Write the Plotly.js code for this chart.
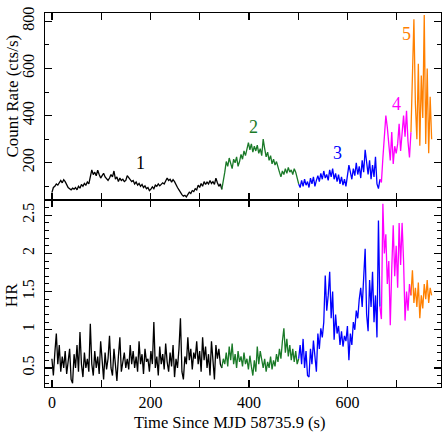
<!DOCTYPE html>
<html>
<head>
<meta charset="utf-8">
<script src="https://cdn.plot.ly/plotly-3.0.1.min.js"></script>
<style>html,body{margin:0;padding:0;background:#fff;}#chart{width:443px;height:441px;}</style>
</head>
<body>
<div id="chart"></div>
<script>
// Segment boundaries (s) and colours
var segLabels = ['1', '2', '3', '4', '5'];
var segStart = [0, 345, 501, 666, 729];
var segEnd = [345, 501, 666, 729, 771];
var segColors = ['#000000', '#1a7a28', '#0000ff', '#ff00ff', '#ff8000'];

// Count rate (cts/s), evenly spaced bins within each segment
var rate1 = [73,95,100,110,105,118,125,115,128,120,
  105,95,90,85,92,88,95,85,100,92,
  108,100,112,105,118,110,140,170,150,160,
  145,168,150,135,145,155,140,130,125,135,
  150,140,165,130,140,120,135,125,130,120,
  125,145,135,128,120,125,110,118,105,112,
  100,108,95,102,90,95,82,88,98,90,
  105,100,110,102,108,115,110,120,135,125,
  130,118,128,120,105,95,85,72,65,58,
  62,55,68,75,70,82,78,90,85,105,
  95,112,100,120,108,118,110,125,112,120,
  108,135,115,100,110,87];
var rate2 = [87,120,160,205,185,220,195,175,215,200,
  225,185,205,235,215,250,230,260,285,255,
  280,245,270,250,275,240,260,230,300,260,
  225,245,210,230,195,215,190,205,175,160,
  140,165,150,175,155,180,160,170,150,175,
  160,130,110];
var rate3 = [110,95,125,100,130,105,120,95,135,110,
  140,100,125,145,120,155,130,165,135,150,
  125,170,140,175,130,155,120,150,110,140,
  105,130,100,145,190,160,130,175,145,200,
  150,185,135,210,160,255,185,150,210,130,
  190,140,225,110,90,130];
var rate4 = [130,116,220,330,400,350,290,210,330,195,
  270,240,280,365,250,330,400,310,420,290,
  222,330];
var rate5 = [330,560,808,450,300,620,272,570,390,826,
  280,600,240,480,300];

// Hardness ratio
var hr1 = [0.62,0.40,0.70,0.95,0.55,0.80,0.45,0.65,0.50,0.72,
  0.42,0.60,0.75,0.35,0.30,0.68,0.50,0.80,0.45,0.97,
  0.55,0.38,0.70,0.50,0.62,0.45,1.08,0.55,0.40,0.72,
  0.50,0.65,0.42,0.85,0.55,0.35,0.70,0.48,0.62,0.92,
  0.50,0.40,0.75,0.52,0.33,0.65,0.90,0.45,0.58,0.70,
  0.50,0.62,0.48,0.80,0.55,0.72,0.50,0.65,0.45,0.85,
  0.55,0.68,0.42,0.75,0.58,0.62,0.45,0.72,0.55,1.10,
  0.50,0.65,0.40,0.78,0.55,0.68,0.48,0.82,0.58,0.45,
  0.70,0.52,0.80,0.38,0.62,0.50,0.75,1.15,0.45,0.35,
  0.65,0.55,0.90,0.60,0.75,0.48,0.70,0.62,0.85,0.55,
  0.72,0.45,0.90,0.60,0.78,0.50,0.68,0.40,0.85,0.58,
  0.35,0.80,0.62,0.75,0.55,0.50];
var hr2 = [0.50,0.62,0.55,0.70,0.52,0.78,0.60,0.82,0.55,0.68,
  0.50,0.72,0.58,0.65,0.52,0.70,0.55,0.62,0.48,0.66,
  0.52,0.40,0.60,0.45,0.78,0.55,0.72,0.58,0.50,0.62,
  0.45,0.58,0.50,0.65,0.48,0.60,0.52,0.68,0.58,0.75,
  0.62,0.85,1.02,0.70,0.88,0.65,0.80,0.60,0.75,0.58,
  0.72,0.55,0.62];
var hr3 = [0.62,0.80,0.55,0.88,0.50,0.72,0.40,0.38,0.75,0.55,
  0.86,0.60,0.45,0.95,0.75,1.02,0.90,1.10,1.71,1.25,
  1.45,1.76,1.15,1.50,0.87,1.20,0.95,1.05,0.80,0.98,
  0.78,0.92,0.85,1.05,0.60,0.95,0.80,1.10,1.00,1.25,
  1.15,1.40,1.55,1.30,1.76,2.06,1.20,0.98,1.65,1.30,
  1.76,1.10,1.45,0.90,2.43,1.30];
var hr4 = [1.30,1.14,2.65,2.00,2.25,1.60,1.90,1.06,1.80,2.37,
  1.70,2.10,1.55,2.40,1.85,2.40,1.90,1.12,1.50,1.25,
  1.60,1.45];
var hr5 = [1.45,1.78,1.35,1.55,1.30,1.62,1.15,1.45,1.28,1.60,
  1.40,1.65,1.35,1.55,1.45];

// Label positions for segment numbers (data coords)
var labelT = [179, 409, 579, 699, 719];
var labelRate = [200, 350, 241, 450, 748];

var rates = [rate1, rate2, rate3, rate4, rate5];
var hrs = [hr1, hr2, hr3, hr4, hr5];

function times(i, n) {
  var out = [];
  for (var k = 0; k < n; k++) out.push(segStart[i] + (segEnd[i] - segStart[i]) * k / (n - 1));
  return out;
}

var traces = [];
for (var i = 0; i < 5; i++) {
  traces.push({x: times(i, rates[i].length), y: rates[i], xaxis: 'x2', yaxis: 'y2',
    type: 'scatter', mode: 'lines', line: {color: segColors[i], width: 1.3}, hoverinfo: 'none'});
  traces.push({x: times(i, hrs[i].length), y: hrs[i], xaxis: 'x', yaxis: 'y',
    type: 'scatter', mode: 'lines', line: {color: segColors[i], width: 1.3}, hoverinfo: 'none'});
}

var serif = 'Liberation Serif, Times New Roman, serif';
var xt = [0, 100, 200, 300, 400, 500, 600, 700];
var xl = ['0', '', '200', '', '400', '', '600', ''];

var common = {
  showline: true, linecolor: '#000', linewidth: 1.3, mirror: 'ticks',
  ticks: 'inside', ticklen: 7, tickwidth: 1.2, tickcolor: '#000',
  showgrid: false, zeroline: false,
  tickfont: {family: serif, size: 16, color: '#000'}
};

function merge(a, b) { var o = {}; for (var k in a) o[k] = a[k]; for (var k2 in b) o[k2] = b[k2]; return o; }

var annotations = [];
for (var j = 0; j < 5; j++) {
  annotations.push({x: labelT[j], y: labelRate[j], xref: 'x2', yref: 'y2', text: segLabels[j],
    showarrow: false, font: {family: serif, size: 18, color: segColors[j]}});
}
// axis titles placed as annotations
annotations.push({x: -0.083, y: 0.777, xref: 'paper', yref: 'paper', text: 'Count Rate (cts/s)',
  textangle: -90, showarrow: false, xanchor: 'center', yanchor: 'middle', borderpad: 0,
  font: {family: serif, size: 17, color: '#000'}});
annotations.push({x: -0.083, y: 0.246, xref: 'paper', yref: 'paper', text: 'HR',
  textangle: -90, showarrow: false, xanchor: 'center', yanchor: 'middle', borderpad: 0,
  font: {family: serif, size: 17, color: '#000'}});
annotations.push({x: 0.467, y: -0.096, xref: 'paper', yref: 'paper', text: 'Time Since MJD 58735.9 (s)',
  showarrow: false, xanchor: 'center', yanchor: 'middle', borderpad: 0,
  font: {family: serif, size: 16.5, color: '#000'}});

var layout = {
  width: 443, height: 441,
  margin: {l: 45, r: 2, t: 13, b: 54},
  paper_bgcolor: '#fff', plot_bgcolor: '#fff',
  showlegend: false,
  xaxis: merge(common, {anchor: 'y', range: [-14, 790], tickmode: 'array', tickvals: xt, ticktext: xl}),
  xaxis2: merge(common, {anchor: 'y2', range: [-14, 790], tickmode: 'array', tickvals: xt, ticktext: xl,
    showticklabels: false, matches: 'x'}),
  yaxis: merge(common, {domain: [0, 0.5], range: [0.25, 2.7], tickmode: 'array', tickvals: [0.5, 1, 1.5, 2, 2.5],
    ticktext: ['0.5', '1', '1.5', '2', '2.5'], tickangle: -90, ticklabelstandoff: 3,
    minor: {dtick: 0.1, tick0: 0, ticks: 'inside', ticklen: 4, tickcolor: '#000', tickwidth: 1}}),
  yaxis2: merge(common, {domain: [0.5, 1], range: [42, 835], tickmode: 'array', tickvals: [200, 400, 600, 800],
    tickangle: -90, ticklabelstandoff: 3,
    minor: {dtick: 100, tick0: 0, ticks: 'inside', ticklen: 4, tickcolor: '#000', tickwidth: 1}}),
  annotations: annotations
};

Plotly.newPlot('chart', traces, layout, {staticPlot: true, displayModeBar: false});
</script>
</body>
</html>
